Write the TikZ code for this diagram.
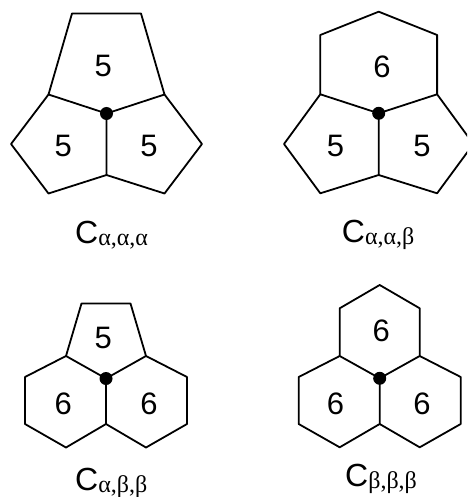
\documentclass[tikz,border=0pt]{standalone}
\usepackage{fontspec}
\setmainfont{Liberation Sans}
\newfontfamily\subfont{Liberation Serif}
\begin{document}
\begin{tikzpicture}[x=1pt,y=-1pt,
  edge/.style={line width=1.8pt,line join=round},
  ring/.style={inner sep=0pt,font=\fontsize{31}{31}\selectfont},
  lbl/.style={inner sep=0pt,anchor=base west},
  hub/.style={fill=black}]
\useasboundingbox (0,0) rectangle (467,497);
\clip (0,0) rectangle (467,497);
\newcommand\clabel[1]{{\fontsize{32}{32}\selectfont C}\lower2pt\hbox{\subfont\fontsize{24}{24}\selectfont #1}}
% ---------- panel 1: C alpha alpha alpha
\coordinate (a0) at (106.5,113.5);
\coordinate (a1) at (72,13.5);
\coordinate (a2) at (141,13.5);
\coordinate (a3) at (164.5,94.5);
\coordinate (a4) at (48.5,94.5);
\coordinate (a5) at (11,144);
\coordinate (a6) at (48.5,193.5);
\coordinate (a7) at (106.5,175);
\coordinate (a8) at (202,144);
\coordinate (a9) at (164.5,193.5);
\draw[edge] (a0) -- (a4) -- (a1) -- (a2) -- (a3) -- cycle;
\draw[edge] (a4) -- (a5) -- (a6) -- (a7) -- (a0);
\draw[edge] (a3) -- (a8) -- (a9) -- (a7);
\fill[hub] (a0) circle (6.5);
\node[ring] (a5t) at (103.3,66) {5};
\node[ring] (a5l) at (63.3,146) {5};
\node[ring] (a5r) at (149,146) {5};
\node[lbl] (la) at (75,243) {\clabel{α,α,α}};
% ---------- panel 2: C alpha alpha beta
\coordinate (b0) at (378.7,113.3);
\coordinate (b1) at (320.3,94.3);
\coordinate (b2) at (320.3,35);
\coordinate (b3) at (378.7,11.7);
\coordinate (b4) at (437.1,35);
\coordinate (b5) at (437.1,94.3);
\coordinate (b6) at (284,144);
\coordinate (b7) at (320.3,193.3);
\coordinate (b8) at (378.7,175);
\coordinate (b9) at (473.4,144);
\coordinate (b10) at (437.1,193.3);
\draw[edge] (b0) -- (b1) -- (b2) -- (b3) -- (b4) -- (b5) -- cycle;
\draw[edge] (b1) -- (b6) -- (b7) -- (b8) -- (b0);
\draw[edge] (b5) -- (b9) -- (b10) -- (b8);
\fill[hub] (b0) circle (6.5);
\node[ring] (b6t) at (382,66.7) {6};
\node[ring] (b5l) at (335.5,146) {5};
\node[ring] (b5r) at (422,146) {5};
\node[lbl] (lb) at (341.7,242.3) {\clabel{α,α,β}};
% ---------- panel 3: C alpha beta beta
\coordinate (c0) at (106,378.5);
\coordinate (c1) at (81.5,303.5);
\coordinate (c2) at (130.5,303.5);
\coordinate (c3) at (146,356);
\coordinate (c4) at (66,356);
\coordinate (c5) at (25,377);
\coordinate (c6) at (25,424);
\coordinate (c7) at (66,447.5);
\coordinate (c8) at (106,424);
\coordinate (c9) at (187,377);
\coordinate (c10) at (187,424);
\coordinate (c11) at (146,447.5);
\draw[edge] (c0) -- (c4) -- (c1) -- (c2) -- (c3) -- cycle;
\draw[edge] (c4) -- (c5) -- (c6) -- (c7) -- (c8) -- (c0);
\draw[edge] (c3) -- (c9) -- (c10) -- (c11) -- (c8);
\fill[hub] (c0) circle (6.5);
\node[ring] (c5t) at (103.3,338) {5};
\node[ring] (c6l) at (63.3,404) {6};
\node[ring] (c6r) at (149,404) {6};
\node[lbl] (lc) at (75,490) {\clabel{α,β,β}};
% ---------- panel 4: C beta beta beta
\coordinate (d0) at (379.7,378.3);
\coordinate (d1) at (339.7,356);
\coordinate (d2) at (339.7,308.3);
\coordinate (d3) at (379.7,285);
\coordinate (d4) at (419.7,308.3);
\coordinate (d5) at (419.7,356);
\coordinate (d6) at (298.7,377);
\coordinate (d7) at (298.7,424);
\coordinate (d8) at (339.7,447.3);
\coordinate (d9) at (379.7,424);
\coordinate (d10) at (460.7,377);
\coordinate (d11) at (460.7,424);
\coordinate (d12) at (419.7,447.3);
\draw[edge] (d0) -- (d1) -- (d2) -- (d3) -- (d4) -- (d5) -- cycle;
\draw[edge] (d1) -- (d6) -- (d7) -- (d8) -- (d9) -- (d0);
\draw[edge] (d5) -- (d10) -- (d11) -- (d12) -- (d9);
\fill[hub] (d0) circle (6.5);
\node[ring] (d6t) at (381.3,331) {6};
\node[ring] (d6l) at (335.5,404) {6};
\node[ring] (d6r) at (422,404) {6};
\node[lbl] (ld) at (345,486.7) {\clabel{β,β,β}};
\end{tikzpicture}
\end{document}
